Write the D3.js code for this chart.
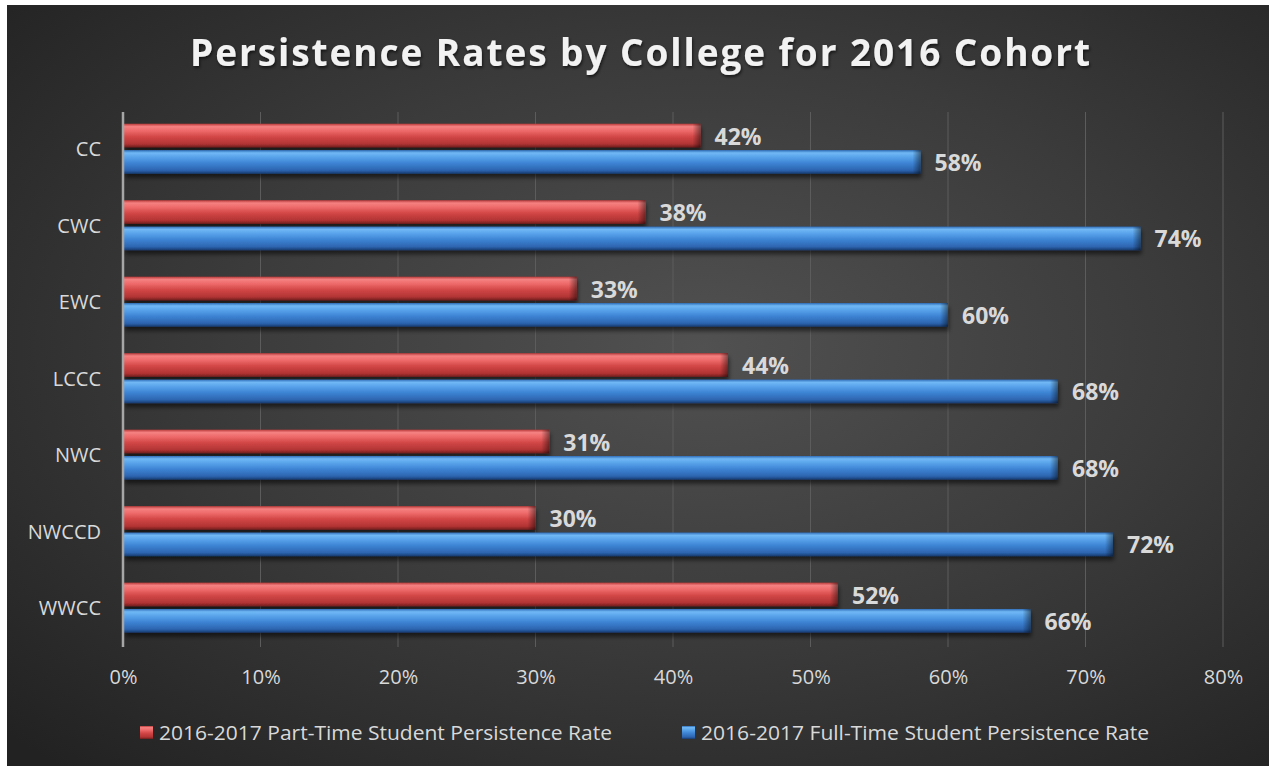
<!DOCTYPE html>
<html>
<head>
<meta charset="utf-8">
<script src="https://cdn.jsdelivr.net/npm/d3@7"></script>
<style>
  body { margin: 0; background: #fff; }
  svg { display: block; }
  text { font-family: "Open Sans", "Noto Sans", sans-serif; }
</style>
</head>
<body>
<div id="chart"></div>
<script>
// data
var colleges     = [ 'CC', 'CWC', 'EWC', 'LCCC', 'NWC', 'NWCCD', 'WWCC' ];
var partTime     = [ 42, 38, 33, 44, 31, 30, 52 ];
var fullTime     = [ 58, 74, 60, 68, 68, 72, 66 ];
var seriesNames  = [ '2016-2017 Part-Time Student Persistence Rate',
                     '2016-2017 Full-Time Student Persistence Rate' ];
var xTicks       = [ 0, 10, 20, 30, 40, 50, 60, 70, 80 ];

var chart_width  = 1269;
var chart_height = 766;
var plot_left    = 123,
    plot_right   = 1223,
    plot_top     = 112,
    plot_bottom  = 647;

var svg = d3.select( '#chart' )
    .append( 'svg' )
    .attr( 'width', chart_width )
    .attr( 'height', chart_height );

var defs = svg.append( 'defs' );

// background gradient
var bg = defs.append( 'radialGradient' )
    .attr( 'id', 'bg' )
    .attr( 'cx', '55%' ).attr( 'cy', '45%' ).attr( 'r', '75%' );
bg.append( 'stop' ).attr( 'offset', '0%' ).attr( 'stop-color', '#515151' );
bg.append( 'stop' ).attr( 'offset', '50%' ).attr( 'stop-color', '#3b3b3b' );
bg.append( 'stop' ).attr( 'offset', '100%' ).attr( 'stop-color', '#222222' );

// bar gradients (cylinder look)
function barGradient( id, stops ){
    var g = defs.append( 'linearGradient' )
        .attr( 'id', id )
        .attr( 'x1', 0 ).attr( 'y1', 0 ).attr( 'x2', 0 ).attr( 'y2', 1 );
    stops.forEach( function( s ){
        g.append( 'stop' ).attr( 'offset', s[0] ).attr( 'stop-color', s[1] );
    });
}
barGradient( 'redBar', [
    [ '0%', '#b83a3a' ], [ '12%', '#f58080' ], [ '30%', '#ee6a6a' ],
    [ '55%', '#d24646' ], [ '85%', '#b23434' ], [ '100%', '#6e1c1c' ] ] );
barGradient( 'blueBar', [
    [ '0%', '#2f6db8' ], [ '12%', '#70b8f5' ], [ '30%', '#58a2ea' ],
    [ '55%', '#3d84d4' ], [ '85%', '#2d65b0' ], [ '100%', '#173a6e' ] ] );

var cap = defs.append( 'linearGradient' )
    .attr( 'id', 'cap' )
    .attr( 'x1', 0 ).attr( 'y1', 0 ).attr( 'x2', 1 ).attr( 'y2', 0 );
cap.append( 'stop' ).attr( 'offset', '0%' ).attr( 'stop-color', '#000' ).attr( 'stop-opacity', 0 );
cap.append( 'stop' ).attr( 'offset', '100%' ).attr( 'stop-color', '#000' ).attr( 'stop-opacity', 0.45 );

var shadow = defs.append( 'filter' )
    .attr( 'id', 'shadow' )
    .attr( 'x', '-5%' ).attr( 'y', '-30%' ).attr( 'width', '110%' ).attr( 'height', '180%' );
shadow.append( 'feDropShadow' )
    .attr( 'dx', 1 ).attr( 'dy', 4 ).attr( 'stdDeviation', 2 )
    .attr( 'flood-color', '#000' ).attr( 'flood-opacity', 0.55 );

var tshadow = defs.append( 'filter' ).attr( 'id', 'tshadow' );
tshadow.append( 'feDropShadow' )
    .attr( 'dx', 1 ).attr( 'dy', 2 ).attr( 'stdDeviation', 1.5 )
    .attr( 'flood-color', '#000' ).attr( 'flood-opacity', 0.6 );

svg.append( 'rect' )
    .attr( 'x', 7 ).attr( 'y', 5 )
    .attr( 'width', chart_width - 7 ).attr( 'height', chart_height - 5 )
    .attr( 'fill', 'url(#bg)' );

// scales
var x = d3.scaleLinear().domain( [ 0, 80 ] ).range( [ plot_left, plot_right ] );
var y0 = d3.scaleBand().domain( colleges ).range( [ plot_top, plot_bottom ] )
    .paddingInner( 0.345 ).paddingOuter( 0.17 ).align( 0.45 );
var y1 = d3.scaleBand().domain( [ 0, 1 ] ).range( [ 0, y0.bandwidth() ] ).paddingInner( 0.1 );

// gridlines
svg.append( 'g' )
    .selectAll( 'line' )
    .data( xTicks.slice( 1 ) )
    .enter()
    .append( 'line' )
    .attr( 'x1', function( d ){ return x( d ); } )
    .attr( 'x2', function( d ){ return x( d ); } )
    .attr( 'y1', plot_top ).attr( 'y2', plot_bottom )
    .attr( 'stroke', '#5c5c5c' )
    .attr( 'stroke-width', 1 );

// x axis labels
var xAxis = d3.axisBottom( x )
    .tickValues( xTicks )
    .tickSize( 0 )
    .tickPadding( 0 )
    .tickFormat( function( d ){ return d + '%'; } );
var xg = svg.append( 'g' )
    .attr( 'transform', 'translate(0,' + 670 + ')' )
    .call( xAxis );
xg.select( '.domain' ).remove();
xg.selectAll( 'text' )
    .attr( 'fill', '#d9d9d9' )
    .attr( 'font-size', 20 )
    .attr( 'font-family', '"Open Sans", sans-serif' );

// y axis labels
var yAxis = d3.axisLeft( y0 ).tickSize( 0 ).tickPadding( 0 );
var yg = svg.append( 'g' )
    .attr( 'transform', 'translate(101,1)' )
    .call( yAxis );
yg.select( '.domain' ).remove();
yg.selectAll( 'text' )
    .attr( 'fill', '#d9d9d9' )
    .attr( 'font-size', 20 )
    .attr( 'font-family', '"Open Sans", sans-serif' );

// bars
var rows = colleges.map( function( c, i ){
    return { name: c, vals: [ partTime[i], fullTime[i] ] };
});
var fills = [ 'url(#redBar)', 'url(#blueBar)' ];

var groups = svg.append( 'g' )
    .selectAll( 'g' )
    .data( rows )
    .enter()
    .append( 'g' )
    .attr( 'transform', function( d ){ return 'translate(0,' + y0( d.name ) + ')'; } );

var bars = groups.selectAll( 'g' )
    .data( function( d ){ return d.vals.map( function( v, s ){ return { v: v, s: s }; } ); } )
    .enter()
    .append( 'g' );

bars.append( 'rect' )
    .attr( 'x', x( 0 ) + 1 )
    .attr( 'y', function( d ){ return y1( d.s ); } )
    .attr( 'width', function( d ){ return x( d.v ) - x( 0 ) - 1; } )
    .attr( 'height', y1.bandwidth() )
    .attr( 'fill', function( d ){ return fills[ d.s ]; } )
    .attr( 'filter', 'url(#shadow)' );

// darker rounded end cap
bars.append( 'rect' )
    .attr( 'x', function( d ){ return x( d.v ) - 8; } )
    .attr( 'y', function( d ){ return y1( d.s ); } )
    .attr( 'width', 8 )
    .attr( 'height', y1.bandwidth() )
    .attr( 'fill', 'url(#cap)' );

// value labels
bars.append( 'text' )
    .text( function( d ){ return d.v + '%'; } )
    .attr( 'x', function( d ){ return x( d.v ) + 14; } )
    .attr( 'y', function( d ){ return y1( d.s ) + y1.bandwidth() / 2 + 1; } )
    .attr( 'dy', '0.35em' )
    .attr( 'font-size', 23 )
    .attr( 'font-weight', 'bold' )
    .attr( 'fill', '#d9d9d9' );

// vertical axis line
svg.append( 'line' )
    .attr( 'x1', x( 0 ) ).attr( 'x2', x( 0 ) )
    .attr( 'y1', plot_top ).attr( 'y2', plot_bottom )
    .attr( 'stroke', '#a6a6a6' )
    .attr( 'stroke-width', 2.5 );

// title
svg.append( 'text' )
    .text( 'Persistence Rates by College for 2016 Cohort' )
    .attr( 'x', 640 )
    .attr( 'y', 66 )
    .attr( 'text-anchor', 'middle' )
    .attr( 'font-size', 37 )
    .attr( 'font-weight', 'bold' )
    .attr( 'textLength', 900 )
    .attr( 'lengthAdjust', 'spacing' )
    .attr( 'fill', '#f2f2f2' )
    .attr( 'filter', 'url(#tshadow)' );

// legend
var legendX = [ 140, 682 ];
var legendW = [ 453, 448 ];
var legend = svg.append( 'g' )
    .selectAll( 'g' )
    .data( seriesNames )
    .enter()
    .append( 'g' )
    .attr( 'transform', function( d, i ){ return 'translate(' + legendX[i] + ',726)'; } );

legend.append( 'rect' )
    .attr( 'width', 13 ).attr( 'height', 13 )
    .attr( 'fill', function( d, i ){ return fills[i]; } );

legend.append( 'text' )
    .text( function( d ){ return d; } )
    .attr( 'x', 19 )
    .attr( 'y', 7 )
    .attr( 'dy', '0.35em' )
    .attr( 'font-size', 20 )
    .attr( 'textLength', function( d, i ){ return legendW[i]; } )
    .attr( 'lengthAdjust', 'spacingAndGlyphs' )
    .attr( 'fill', '#d9d9d9' );
</script>
</body>
</html>
